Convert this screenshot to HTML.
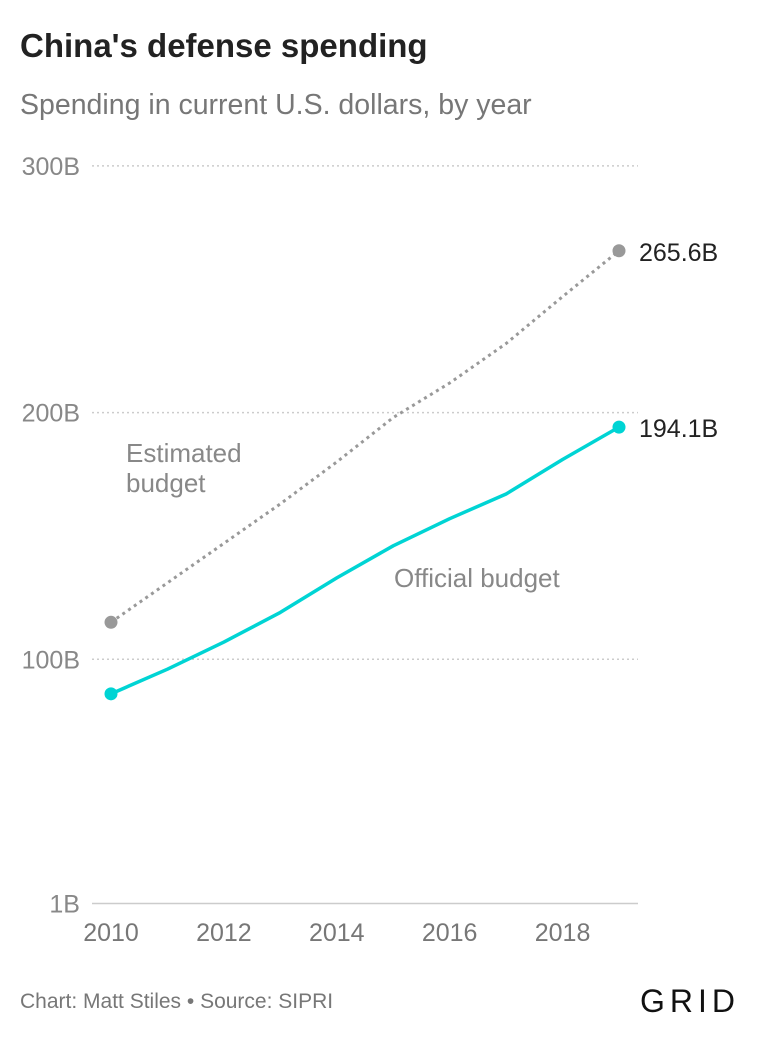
<!DOCTYPE html>
<html><head><meta charset="utf-8"><style>
body{margin:0;background:#fff;width:760px;height:1040px;overflow:hidden;font-family:"Liberation Sans",sans-serif}
</style></head><body>
<svg width="760" height="1040" style="font-family:'Liberation Sans',sans-serif">
<text x="20" y="57" font-size="33" font-weight="bold" fill="#222">China's defense spending</text>
<text x="20" y="114" font-size="28.5" fill="#777">Spending in current U.S. dollars, by year</text>
<g id="grid"></g>
<g id="xt"></g>
<g id="lines"></g>
<text x="126" y="462" font-size="26" fill="#888">Estimated</text>
<text x="126" y="492" font-size="26" fill="#888">budget</text>
<text x="394" y="587" font-size="26" fill="#888">Official budget</text>
<text x="20" y="1008" font-size="21" fill="#777">Chart: Matt Stiles • Source: SIPRI</text>
<text x="740" y="1012" font-size="32" fill="#111" text-anchor="end" letter-spacing="5">GRID</text>
</svg>
<script>
const years=[2010,2011,2012,2013,2014,2015,2016,2017,2018,2019];
const official=[86,96,107,119,133,146,157,167,181,194.1];
const estimated=[115,131,147,163,180,198,212,228,247,265.6];
const yTicks=[1,100,200,300];
const yTickLabels=["1B","100B","200B","300B"];
const xTicks=[2010,2012,2014,2016,2018];
const NS="http://www.w3.org/2000/svg";
const x=v=>111+(v-2010)*(619-111)/9;
const y=v=>906-v*2.467;
function mk(tag,attrs,parent,txt){const e=document.createElementNS(NS,tag);for(const k in attrs)e.setAttribute(k,attrs[k]);if(txt!==undefined)e.textContent=txt;parent.appendChild(e);return e;}
const g=document.getElementById('grid');
yTicks.forEach((t,i)=>{
 const l=mk('line',{x1:92,x2:638,y1:y(t),y2:y(t),stroke:'#ccc','stroke-width':1.5,'stroke-dasharray':t===1?'none':'2 3'},g);
 
 
 const tx=mk('text',{x:80,y:y(t)+9,'font-size':25,fill:'#888','text-anchor':'end'},g,yTickLabels[i]);
 
 
});
const xt=document.getElementById('xt');
xTicks.forEach(t=>{
 const tx=mk('text',{x:x(t),y:941,'font-size':25,fill:'#777','text-anchor':'middle'},xt,String(t));
 
 
});
const L=document.getElementById('lines');
function series(vals,color,dash,name,label){
 const p=mk('polyline',{points:vals.map((v,i)=>x(years[i])+','+y(v)).join(' '),fill:'none',stroke:color,'stroke-width':dash?3:3.5,'stroke-dasharray':dash?'3 4':'none','stroke-linejoin':'round'},L);
 
 
 [0,vals.length-1].forEach(i=>{
  const c=mk('circle',{cx:x(years[i]),cy:y(vals[i]),r:6.5,fill:color},L);
  
  
 });
 const n=vals.length-1;
 const t=mk('text',{x:x(years[n])+20,y:y(vals[n])+10,'font-size':25,fill:'#222'},L,label);
 
 
}
series(estimated,'#999',true,'estimated',estimated[estimated.length-1]+'B');
series(official,'#00d4d4',false,'official',official[official.length-1]+'B');
</script>
</body></html>
